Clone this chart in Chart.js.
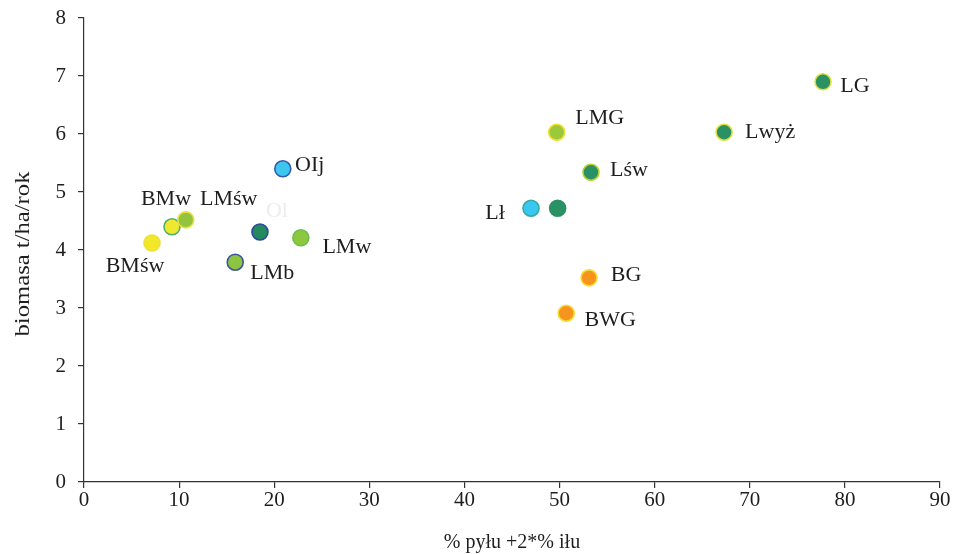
<!DOCTYPE html>
<html>
<head>
<meta charset="utf-8">
<script src="https://cdn.jsdelivr.net/npm/chart.js@4"></script>
<style>
  html, body { margin: 0; padding: 0; background: #fff; }
  #wrap { width: 958px; height: 554px; }
</style>
</head>
<body>
<div id="wrap"><canvas id="chart"></canvas></div>
<script>
// sites: name, % dust + 2*% clay, biomass t/ha/year
const names = ["BMśw", "BMw", "LMśw", "LMb", "Ol", "OIj", "LMw", "Lł", "", "LMG", "Lśw", "BG", "BWG", "Lwyż", "LG"];
const xValues = [7.15, 9.25, 10.7, 15.9, 18.5, 20.9, 22.8, 47.0, 49.8, 49.7, 53.3, 53.1, 50.7, 67.3, 77.7];
const yValues = [4.12, 4.40, 4.52, 3.79, 4.31, 5.40, 4.21, 4.72, 4.72, 6.03, 5.34, 3.52, 2.91, 6.03, 6.90];
const xTicks = [0, 10, 20, 30, 40, 50, 60, 70, 80, 90];
const yTicks = [0, 1, 2, 3, 4, 5, 6, 7, 8];
const xTitle = "% pyłu +2*% iłu";
const yTitle = "biomasa t/ha/rok";

// point styling
const fills = ["#f2e82a", "#f0e830", "#94c43e", "#8dc43f", "#238a5e", "#3cc6f0", "#8dc63f", "#38c8f0",
  "#2a9164", "#9cc83c", "#2a9164", "#f7941d", "#f7941d", "#2a9164", "#2a9164"];
const borders = ["#efe13a", "#4caf6a", "#e8e040", "#3b56a0", "#2f4b9c", "#3559a8", "#6cc04a", "#3aa7a0",
  "#2a9164", "#f0e030", "#b8d030", "#f5dc30", "#f5dc30", "#e0e040", "#e0e040"];
// label offsets from the point, in px
const labelDx = [-17, -6, 43, 37, 17, 27, 46, -36, 0, 43, 38, 37, 44, 46, 32];
const labelDy = [23, -28, -21, 11, -21, -4, 9, 5, 0, -14, -2, -3, 7, 0, 4];
const labelColors = names.map((n, i) => i === 4 ? "#ececec" : "#1e1e1e");

const points = xValues.map((x, i) => ({ x: x, y: yValues[i] }));
const serif = "'Liberation Serif', 'Times New Roman', serif";

const pointLabels = {
  id: "pointLabels",
  afterDatasetsDraw(chart) {
    const ctx = chart.ctx;
    const meta = chart.getDatasetMeta(0);
    ctx.save();
    ctx.font = "22px " + serif;
    ctx.textAlign = "center";
    ctx.textBaseline = "middle";
    meta.data.forEach((el, i) => {
      if (!names[i]) return;
      ctx.fillStyle = labelColors[i];
      ctx.fillText(names[i], el.x + labelDx[i], el.y + labelDy[i]);
    });
    ctx.restore();
  }
};

// axis titles, y title is a bit stretched along its length like the source
const axisTitles = {
  id: "axisTitles",
  afterDraw(chart) {
    const ctx = chart.ctx;
    const a = chart.chartArea;
    ctx.save();
    ctx.fillStyle = "#1e1e1e";
    ctx.textAlign = "center";
    ctx.textBaseline = "alphabetic";
    ctx.font = "20px " + serif;
    ctx.fillText(xTitle, (a.left + a.right) / 2, chart.height - 6);
    ctx.translate(29, (a.top + a.bottom) / 2 + 4);
    ctx.rotate(-Math.PI / 2);
    ctx.scale(1.12, 1);
    ctx.font = "22px " + serif;
    ctx.fillText(yTitle, 0, 0);
    ctx.restore();
  }
};

new Chart(document.getElementById("chart"), {
  type: "scatter",
  data: {
    datasets: [{
      data: points,
      backgroundColor: fills,
      borderColor: borders,
      borderWidth: 1.6,
      pointRadius: 8,
      pointHoverRadius: 8
    }]
  },
  options: {
    responsive: true,
    maintainAspectRatio: false,
    animation: false,
    layout: { padding: { top: 18, right: 18, left: 0, bottom: 0 } },
    plugins: { legend: { display: false }, tooltip: { enabled: false } },
    scales: {
      x: {
        type: "linear",
        min: 0, max: 90,
        afterBuildTicks: s => { s.ticks = xTicks.map(v => ({ value: v })); },
        afterFit: s => { s.height = 72; s.paddingLeft = 0; s.paddingRight = 0; },
        border: { display: true, color: "#333", width: 1.2 },
        grid: { display: true, drawOnChartArea: false, drawTicks: true, tickLength: 6, color: "#333", lineWidth: 1.2 },
        ticks: { color: "#1e1e1e", font: { family: serif, size: 21 }, padding: 0, maxRotation: 0 },
        title: { display: false }
      },
      y: {
        type: "linear",
        min: 0, max: 8,
        afterBuildTicks: s => { s.ticks = yTicks.map(v => ({ value: v })); },
        afterFit: s => { s.width = 84; s.paddingTop = 0; s.paddingBottom = 0; },
        border: { display: true, color: "#333", width: 1.2 },
        grid: { display: true, drawOnChartArea: false, drawTicks: true, tickLength: 6, color: "#333", lineWidth: 1.2 },
        ticks: { color: "#1e1e1e", font: { family: serif, size: 21 }, padding: 12 },
        title: { display: false }
      }
    }
  },
  plugins: [pointLabels, axisTitles]
});
</script>
</body>
</html>
